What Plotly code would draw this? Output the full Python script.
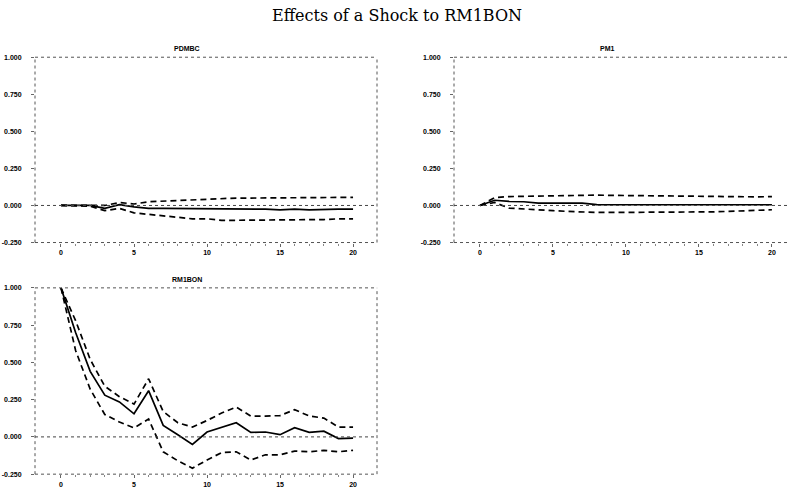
import plotly.graph_objects as go

# Impulse responses to a shock in RM1BON, horizons 0..20
steps = list(range(21))

pdmbc_mid = [0.0, 0.0, 0.0, -0.02, 0.005, -0.01, -0.02, -0.02, -0.02, -0.025, -0.02,
             -0.025, -0.02, -0.02, -0.025, -0.03, -0.025, -0.03, -0.025, -0.025, -0.025]
pdmbc_hi = [0.0, 0.0, 0.005, 0.0, 0.02, 0.01, 0.025, 0.03, 0.035, 0.04, 0.045,
            0.045, 0.05, 0.05, 0.05, 0.05, 0.05, 0.05, 0.055, 0.055, 0.055]
pdmbc_lo = [0.0, 0.0, -0.005, -0.035, -0.02, -0.05, -0.06, -0.07, -0.085, -0.09, -0.09,
            -0.1, -0.1, -0.1, -0.1, -0.1, -0.1, -0.1, -0.095, -0.09, -0.09]

pm1_mid = [0.0, 0.035, 0.027, 0.025, 0.016, 0.016, 0.016, 0.016, 0.006, 0.005, 0.005,
           0.005, 0.005, 0.005, 0.005, 0.005, 0.005, 0.005, 0.005, 0.005, 0.005]
pm1_hi = [0.0, 0.053, 0.06, 0.062, 0.064, 0.066, 0.068, 0.071, 0.07, 0.068, 0.067,
          0.066, 0.065, 0.064, 0.062, 0.06, 0.058, 0.056, 0.057, 0.058, 0.06]
pm1_lo = [0.0, 0.02, -0.018, -0.025, -0.029, -0.035, -0.04, -0.044, -0.047, -0.047, -0.047,
          -0.047, -0.047, -0.047, -0.046, -0.045, -0.043, -0.04, -0.036, -0.03, -0.029]

rm1bon_mid = [1.0, 0.70, 0.44, 0.28, 0.235, 0.155, 0.31, 0.077, 0.015, -0.05, 0.033,
              0.066, 0.095, 0.03, 0.033, 0.015, 0.062, 0.03, 0.038, -0.011, -0.008]
rm1bon_hi = [1.0, 0.78, 0.52, 0.34, 0.27, 0.22, 0.39, 0.17, 0.095, 0.066, 0.11,
             0.16, 0.2, 0.14, 0.14, 0.143, 0.183, 0.14, 0.126, 0.066, 0.066]
rm1bon_lo = [1.0, 0.58, 0.32, 0.15, 0.10, 0.06, 0.12, -0.10, -0.16, -0.21, -0.155,
             -0.105, -0.1, -0.155, -0.12, -0.12, -0.095, -0.1, -0.09, -0.1, -0.09]

panels = [
    ("PDMBC", pdmbc_mid, pdmbc_hi, pdmbc_lo),
    ("PM1", pm1_mid, pm1_hi, pm1_lo),
    ("RM1BON", rm1bon_mid, rm1bon_hi, rm1bon_lo),
]

y_ticks = [-0.25, 0.0, 0.25, 0.5, 0.75, 1.0]
y_labels = ["-0.250", "0.000", "0.250", "0.500", "0.750", "1.000"]
x_ticks = [0, 5, 10, 15, 20]
x_labels = ["0", "5", "10", "15", "20"]

W, H = 788, 488
# pixel boxes of the three panels: (left, right, top, bottom)
boxes = [(35, 377, 54, 242), (454, 788, 54, 242), (35, 377, 288, 477)]
x_ranges = [[-1.78, 21.64], [-1.78, 21.1], [-1.78, 21.64]]

fig = go.Figure()
tick_font = dict(family="Arial", size=7, color="black", weight="bold")

for i, (name, mid, hi, lo) in enumerate(panels):
    sfx = "" if i == 0 else str(i + 1)
    xa, ya = "x" + sfx, "y" + sfx
    for band in (hi, lo):
        fig.add_trace(go.Scatter(x=steps, y=band, mode="lines", xaxis=xa, yaxis=ya,
                                 line=dict(color="black", width=1.7, dash="6px,4px"),
                                 showlegend=False, hoverinfo="skip"))
    fig.add_trace(go.Scatter(x=steps, y=mid, mode="lines", xaxis=xa, yaxis=ya,
                             line=dict(color="black", width=1.7),
                             showlegend=False))
    l, r, t, b = boxes[i]
    fig.layout["xaxis" + sfx] = dict(
        domain=[l / W, r / W], range=x_ranges[i], anchor=ya,
        tickvals=x_ticks, ticktext=x_labels, tickfont=tick_font,
        ticks="outside", ticklen=3, tickcolor="#666", showgrid=False, zeroline=False,
        showline=False,
        minor=dict(tickvals=steps, ticks="outside", ticklen=2, tickcolor="#888"))
    fig.layout["yaxis" + sfx] = dict(
        domain=[(H - b) / H, (H - t) / H], range=[-0.25, 1.0], anchor=xa,
        tickvals=y_ticks, ticktext=y_labels, tickfont=tick_font,
        ticks="outside", ticklen=3, tickcolor="#666", showgrid=False, zeroline=False,
        showline=False, ticklabelstandoff=8)
    # dotted frame
    dref = dict(xref=xa + " domain", yref=ya + " domain")
    frame = [(0, 0, 0, 1), (0, 1, 1, 1), (0, 0, 1, 0)]
    if i != 1:
        frame.append((1, 0, 1, 1))
    for x0, y0, x1, y1 in frame:
        fig.add_shape(type="line", x0=x0, y0=y0, x1=x1, y1=y1, **dref,
                      line=dict(color="#555", width=1, dash="dot"))
    # zero reference line
    fig.add_shape(type="line", xref=xa + " domain", yref=ya, x0=0, x1=1, y0=0, y1=0,
                  line=dict(color="#444", width=1, dash="dot"))
    # panel caption
    cx = (l + 152) / W if i != 1 else 607 / W
    fig.add_annotation(text=name, x=cx, y=(H - t + 3) / H, xref="paper", yref="paper",
                       xanchor="center", yanchor="bottom", showarrow=False,
                       font=dict(family="Arial", size=7, color="black", weight="bold"))

fig.update_layout(
    width=W, height=H, margin=dict(l=0, r=0, t=0, b=0),
    paper_bgcolor="white", plot_bgcolor="white",
    title=dict(text="Effects of a Shock to RM1BON", x=397 / W, xanchor="center",
               y=1 - 15 / H, yanchor="middle",
               font=dict(family="DejaVu Serif", size=16, color="black")),
)

fig.write_html("out.html")
